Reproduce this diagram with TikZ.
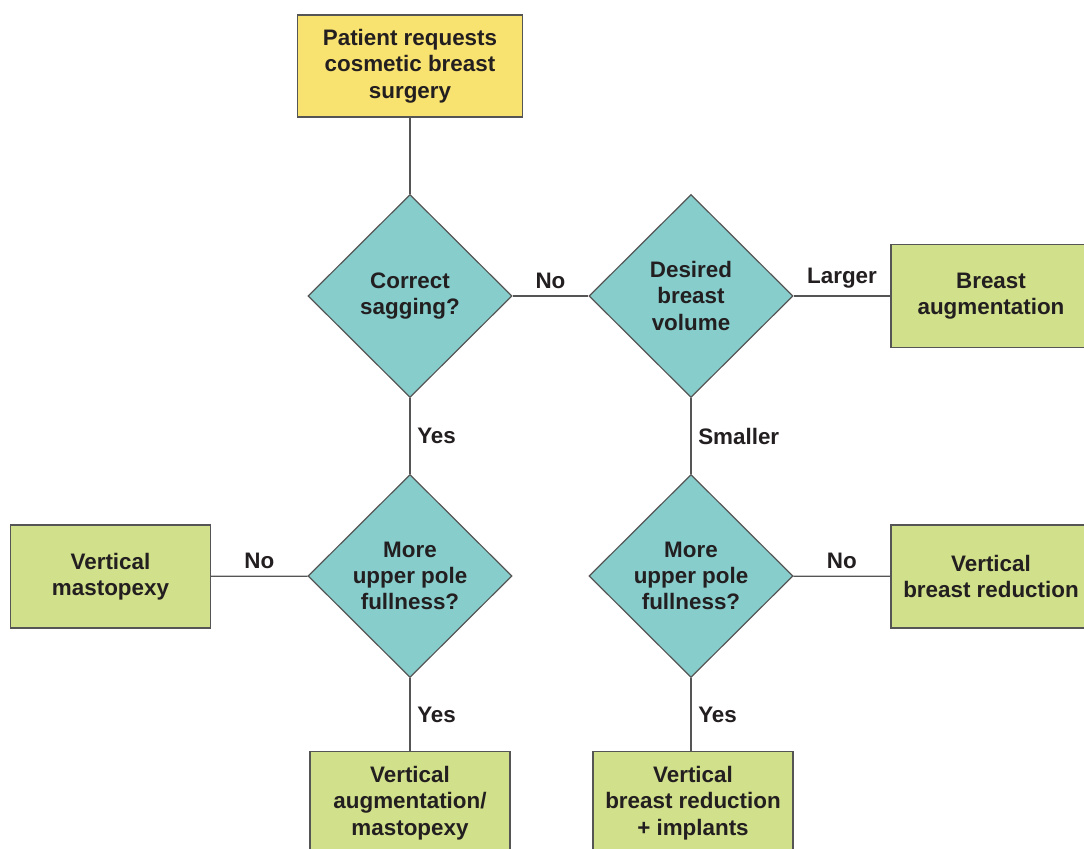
\documentclass[tikz,border=0pt]{standalone}
\usepackage{fontspec}
\setmainfont{Liberation Sans}
\usetikzlibrary{shapes.geometric}
\definecolor{boxyellow}{RGB}{249,227,112}
\definecolor{boxgreen}{RGB}{209,224,138}
\definecolor{diateal}{RGB}{134,205,204}
\definecolor{edgegray}{RGB}{85,85,85}
\definecolor{txtdark}{RGB}{35,31,32}
\tikzstyle{txt}=[font=\fontsize{11.2}{13.2}\selectfont\bfseries, text=txtdark, align=center]
\tikzstyle{startbox}=[txt, draw=edgegray, fill=boxyellow, minimum width=112.5pt, minimum height=51pt, inner sep=0pt]
\tikzstyle{endbox}=[txt, draw=edgegray, fill=boxgreen, minimum width=100pt, minimum height=51.5pt, inner sep=0pt]
\tikzstyle{question}=[diamond, draw=edgegray, fill=diateal, minimum width=102pt, minimum height=101.5pt, inner sep=0pt]
\tikzstyle{link}=[draw=edgegray, line width=0.6pt]

\begin{document}
\begin{tikzpicture}[x=0.5pt, y=-0.5pt, line width=0.6pt]
    \useasboundingbox (0,0) rectangle (1084,849);
    \fill[white] (0,0) rectangle (1084,849);
    \clip (0,0) rectangle (1084,849);

    % start
    \node[startbox] (start) at (410,66) {Patient requests\\cosmetic breast\\surgery};

    % questions
    \node[question, label={[txt]center:{Correct\\sagging?}}] (sag) at (410,296) {};
    \node[question, label={[txt]center:{Desired\\breast\\volume}}] (vol) at (691,296) {};
    \node[question, label={[txt]center:{More\\upper pole\\fullness?}}] (fullL) at (410,576) {};
    \node[question, label={[txt]center:{More\\upper pole\\fullness?}}] (fullR) at (691,576) {};

    % outcomes
    \node[endbox] (augment) at (991,296) {Breast\\augmentation};
    \node[endbox] (mastopexy) at (110.5,576.5) {Vertical\\mastopexy};
    \node[endbox] (reduction) at (991,576.5) {Vertical\\breast reduction};
    \node[endbox] (augmasto) at (410,803) {Vertical\\augmentation/\\mastopexy};
    \node[endbox] (redimpl) at (693,803) {Vertical\\breast reduction\\+ implants};

    % connectors
    \draw[link] (start) -- (sag);
    \draw[link] (sag) -- node[txt, above] {No} (vol);
    \draw[link] (vol) -- node[txt, above] {Larger} (augment);
    \draw[link] (sag) -- node[txt, right] {Yes} (fullL);
    \draw[link] (vol) -- node[txt, right] {Smaller} (fullR);
    \draw[link] (fullL) -- node[txt, above] {No} (mastopexy);
    \draw[link] (fullR) -- node[txt, above] {No} (reduction);
    \draw[link] (fullL) -- node[txt, right] {Yes} (augmasto);
    \draw[link] (fullR.south) -- node[txt, right] {Yes} (fullR.south |- redimpl.north);

\end{tikzpicture}
\end{document}
